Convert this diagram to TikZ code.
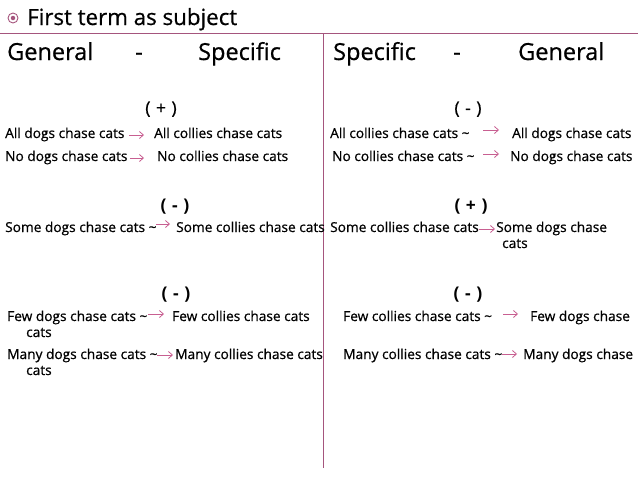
\documentclass[tikz,border=0pt]{standalone}
\usepackage{fontspec}
\setmainfont{Open Sans}[FakeBold=0.7]
\newfontfamily\boldsignfont{Open Sans Bold}
\usetikzlibrary{arrows.meta}
\definecolor{mauve}{RGB}{165,85,125}
\definecolor{arrpink}{RGB}{200,95,145}
\begin{document}
\begin{tikzpicture}[x=1pt,y=-1pt,
  txt/.style={inner sep=0pt,anchor=base west,font=\fontsize{13.7}{16}\selectfont},
  head/.style={inner sep=0pt,anchor=base west,font=\fontsize{23.5}{26}\selectfont},
  sign/.style={inner sep=0pt,anchor=base,font=\fontsize{17.5}{20}\selectfont},
  bsign/.style={inner sep=0pt,anchor=base,font=\fontsize{17.5}{20}\boldsignfont},
  arr/.style={draw=arrpink,line width=0.8pt,-{Straight Barb[length=4pt,width=7pt]}},
  rule/.style={draw=mauve,line width=1pt}]
\useasboundingbox (0,0) rectangle (638,479);
% title
\node[circle,draw=mauve,line width=0.9pt,minimum size=10pt,inner sep=0pt] (bul) at (13,18) {};
\node[circle,fill=mauve,minimum size=4.5pt,inner sep=0pt] (buldot) at (bul.center) {};
\node[inner sep=0pt,anchor=base west,font=\fontsize{22.3}{25}\selectfont] (title) at (27,25) {First term as subject};
% rules
\coordinate (hl) at (0,33); \coordinate (hr) at (638,33);
\coordinate (vt) at (323,33); \coordinate (vb) at (323,468);
\draw[rule] (hl) -- (hr);
\draw[rule] (vt) -- (vb);
% headers
\node[head] (h1) at (7,60) {General};
\node[head] (h2) at (135,60) {-};
\node[head] (h3) at (198,60) {Specific};
\node[head] (h4) at (333,60) {Specific};
\node[head] (h5) at (453,60) {-};
\node[head] (h6) at (518,60) {General};
% section 1
\node[sign] (s1l) at (161,114) {(\hspace{1pt} + \hspace{1pt})};
\node[sign] (s1r) at (468,114) {(\hspace{1pt} - \hspace{1pt})};
\node[txt] (l1a) at (5,138) {All dogs chase cats};
\node[txt] (l1b) at (154,138) {All collies chase cats};
\node[txt] (l2a) at (5,161) {No dogs chase cats};
\node[txt] (l2b) at (157,161) {No collies chase cats};
\node[txt] (r1a) at (330,138) {All collies chase cats \textasciitilde};
\node[txt] (r1b) at (512,138) {All dogs chase cats};
\node[txt] (r2a) at (332,161) {No collies chase cats \textasciitilde};
\node[txt] (r2b) at (510,161) {No dogs chase cats};
\coordinate (al1s) at (129,135); \coordinate (al1e) at (144,135);
\coordinate (al2s) at (130,158); \coordinate (al2e) at (144,158);
\coordinate (ar1s) at (483,130); \coordinate (ar1e) at (499,130);
\coordinate (ar2s) at (483,154); \coordinate (ar2e) at (499,154);
\draw[arr] (al1s) -- (al1e);
\draw[arr] (al2s) -- (al2e);
\draw[arr] (ar1s) -- (ar1e);
\draw[arr] (ar2s) -- (ar2e);
% section 2
\node[bsign] (s2l) at (175,211) {(\hspace{1pt} - \hspace{1pt})};
\node[bsign] (s2r) at (471,211) {(\hspace{1pt} + \hspace{1pt})};
\node[txt] (l3a) at (5,232) {Some dogs chase cats \textasciitilde};
\node[txt] (l3b) at (176,232) {Some collies chase cats};
\node[txt] (r3a) at (330,232) {Some collies chase cats};
\node[txt] (r3b) at (496,232) {Some dogs chase};
\node[txt] (r3c) at (502,248) {cats};
\coordinate (al3s) at (156,224); \coordinate (al3e) at (170,224);
\coordinate (ar3s) at (479,229); \coordinate (ar3e) at (495,229);
\draw[arr] (al3s) -- (al3e);
\draw[arr] (ar3s) -- (ar3e);
% section 3
\node[bsign] (s3l) at (176,299) {(\hspace{1pt} - \hspace{1pt})};
\node[bsign] (s3r) at (468,299) {(\hspace{1pt} - \hspace{1pt})};
\node[txt] (l4a) at (7,321) {Few dogs chase cats \textasciitilde};
\node[txt] (l4b) at (172,321) {Few collies chase cats};
\node[txt] (l4c) at (26,337) {cats};
\node[txt] (l5a) at (7,359) {Many dogs chase cats \textasciitilde};
\node[txt] (l5b) at (175,359) {Many collies chase cats};
\node[txt] (l5c) at (26,375) {cats};
\node[txt] (r4a) at (343,321) {Few collies chase cats \textasciitilde};
\node[txt] (r4b) at (530,321) {Few dogs chase};
\node[txt] (r5a) at (343,359) {Many collies chase cats \textasciitilde};
\node[txt] (r5b) at (523,359) {Many dogs chase};
\coordinate (al4s) at (148,314); \coordinate (al4e) at (164,314);
\coordinate (al5s) at (157,355); \coordinate (al5e) at (173,355);
\coordinate (ar4s) at (503,314); \coordinate (ar4e) at (518,314);
\coordinate (ar5s) at (502,354); \coordinate (ar5e) at (517,354);
\draw[arr] (al4s) -- (al4e);
\draw[arr] (al5s) -- (al5e);
\draw[arr] (ar4s) -- (ar4e);
\draw[arr] (ar5s) -- (ar5e);
\end{tikzpicture}
\end{document}
